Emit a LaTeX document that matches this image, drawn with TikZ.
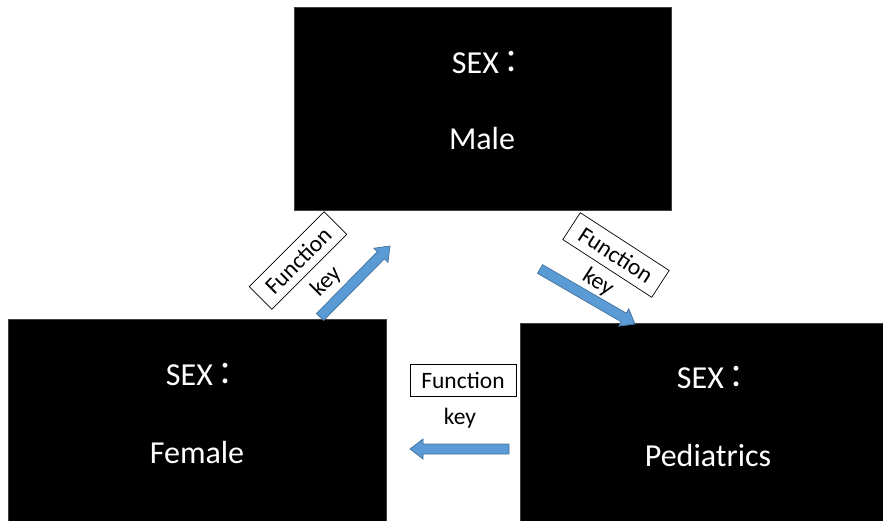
\documentclass[tikz,border=0pt]{standalone}
\usepackage{fontspec}
\setmainfont{Carlito}
\newfontfamily\cjk{Noto Sans CJK TC}
\usetikzlibrary{calc}
\definecolor{arrowblue}{HTML}{5B9BD5}
\definecolor{arrowedge}{HTML}{41719C}
\newcommand{\sexlabel}{SEX\kern-0.12em{\cjk ：}}
\tikzset{
  sexbox/.style={rectangle, fill=black, draw=black!75, line width=0.6pt, inner sep=0pt, outer sep=0pt},
  sextext/.style={text=white, inner sep=0pt, font=\fontsize{32}{37}\selectfont, anchor=base},
  fkbox/.style={rectangle, draw=black, fill=white, line width=0.7pt, minimum width=106pt, minimum height=32pt, inner sep=0pt, font=\fontsize{23.5}{27}\selectfont},
  fktext/.style={inner sep=0pt, font=\fontsize{23.5}{27}\selectfont},
  blockarrow/.style={fill=arrowblue, draw=arrowedge, line width=0.7pt, line join=miter}
}
\newcommand{\blockarrow}[2]{%
  \coordinate (hb) at ($(#2)!13pt!(#1)$);
  \filldraw[blockarrow]
    ($(#1)!5pt!90:(#2)$) -- ($(hb)!5pt!90:(#2)$) -- ($(hb)!10pt!90:(#2)$) -- (#2)
    -- ($(hb)!10pt!-90:(#2)$) -- ($(hb)!5pt!-90:(#2)$) -- ($(#1)!5pt!-90:(#2)$) -- cycle;
}
\begin{document}
\begin{tikzpicture}[x=1pt, y=-1pt]
\useasboundingbox (0,0) rectangle (883,520);
% black boxes
\node[sexbox, minimum width=377pt, minimum height=203pt] (male) at (482.5,108.5) {};
\node[sexbox, minimum width=378pt, minimum height=203pt] (female) at (197,420.5) {};
\node[sexbox, minimum width=364pt, minimum height=199pt] (ped) at (702,422.5) {};
% texts
\node[sextext] (maleA) at (489.5,73) {\sexlabel};
\node[sextext] (maleB) at (482,149) {Male};
\node[sextext] (femA) at (203.5,385) {\sexlabel};
\node[sextext] (femB) at (197,463) {Female};
\node[sextext] (pedA) at (714.5,388) {\sexlabel};
\node[sextext] (pedB) at (708,466) {Pediatrics};
% arrows
\coordinate (a1s) at (320,317); \coordinate (a1e) at (390,246);
\coordinate (a2s) at (540,269); \coordinate (a2e) at (635,324);
\coordinate (a3s) at (509,449); \coordinate (a3e) at (410,449);
\blockarrow{a1s}{a1e}
\blockarrow{a2s}{a2e}
\blockarrow{a3s}{a3e}
% labels
\begin{scope}[shift={(298,260.5)}, rotate=45, transform shape]
  \node[fkbox] (fk1) at (0,0) {Function};
  \node[fktext] (key1) at (5,35) {key};
\end{scope}
\begin{scope}[shift={(616,255)}, rotate=-33, transform shape]
  \node[fkbox] (fk2) at (0,0) {Function};
  \node[fktext] (key2) at (0,33) {key};
\end{scope}
\node[fkbox] (fk3) at (463,380) {Function};
\node[fktext] (key3) at (460,418) {key};
\end{tikzpicture}
\end{document}
